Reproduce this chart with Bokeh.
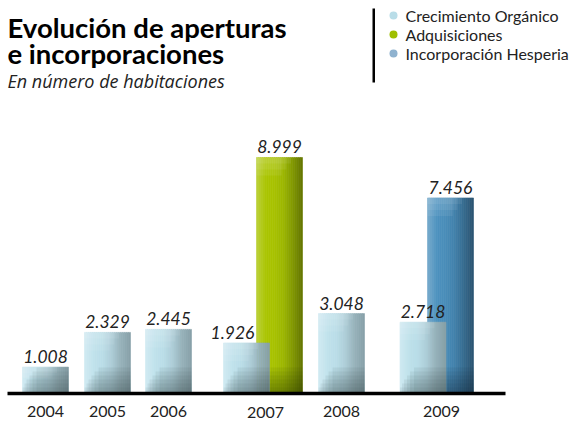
from bokeh.plotting import figure
from bokeh.models import Range1d, Label, BoxAnnotation
from bokeh.embed import file_html
from bokeh.resources import INLINE
from bokeh.core.properties import value

# ---------------- data ----------------
years = ["2004", "2005", "2006", "2007", "2008", "2009"]
organico = [1008, 2329, 2445, 1926, 3048, 2718]
adquisiciones = {"2007": 8999}
hesperia = {"2009": 7456}
series_names = ["Crecimiento Orgánico", "Adquisiciones", "Incorporación Hesperia"]
title_lines = ["Evolución de aperturas", "e incorporaciones"]
subtitle = "En número de habitaciones"

# ---------------- layout (pixel units) ----------------
W, H = 573, 422
BASE_PX = 29            # baseline distance from bottom
Y_PER_PX = 38.13        # data units per pixel
BAR_W = 46
org_x = [45, 107, 168, 246, 341, 422.5]
extra_x = {"2007": 279, "2009": 450}
year_lbl_x = [45, 107, 168, 265, 341, 441]
year_lbl_y = [410.5, 410.5, 410.5, 412, 410.5, 410.5]
org_lbl_dx = [0, 0, 0, -14, 0, 0]

def fmt(v):
    return f"{v:,}".replace(",", ".")

def sy(page_y):
    return H - page_y

p = figure(width=W, height=H, output_backend="svg", toolbar_location=None,
           x_range=Range1d(0, W),
           y_range=Range1d(-BASE_PX * Y_PER_PX, (H - BASE_PX) * Y_PER_PX),
           min_border=0, outline_line_color=None)
p.axis.visible = False
p.grid.visible = False
p.background_fill_color = "white"

def mix(c1, c2, t):
    a = [int(c1[i:i + 2], 16) for i in (1, 3, 5)]
    b = [int(c2[i:i + 2], 16) for i in (1, 3, 5)]
    return "#%02x%02x%02x" % tuple(round(a[k] + (b[k] - a[k]) * t) for k in range(3))

def grad_bar(xc, top, stops, shadow):
    n = 23
    step = BAR_W / n
    lefts, rights, tops, bots, cols = [], [], [], [], []
    for i in range(n):
        t = i / (n - 1)
        seg = t * (len(stops) - 1)
        k = min(int(seg), len(stops) - 2)
        cols.append(mix(stops[k], stops[k + 1], seg - k))
        lefts.append(xc - BAR_W / 2 + i * step)
        rights.append(xc - BAR_W / 2 + (i + 1) * step)
        tops.append(top)
        bots.append(0)
    p.quad(left=lefts, right=rights, top=tops, bottom=bots, fill_color=cols,
           line_color=cols, line_width=0.6)
    # top highlight (soft)
    for hpx, wr in [(18, 0.55), (12, 0.65), (6, 0.75)]:
        hh = min(hpx * Y_PER_PX, top * 0.4)
        p.quad(left=[xc - BAR_W / 2], right=[xc - BAR_W / 2 + BAR_W * wr], top=[top],
               bottom=[top - hh], fill_color="white", fill_alpha=0.07, line_color=None)
    # bottom shadow (soft)
    for hpx, off in [(26, 14), (22, 10), (18, 7), (14, 4), (10, 2), (6, 0), (3, 0)]:
        hh = min(hpx * Y_PER_PX, top)
        p.quad(left=[xc - BAR_W / 2 + off], right=[xc + BAR_W / 2], top=[hh], bottom=[0],
               fill_color=shadow, fill_alpha=0.07, line_color=None)

light_stops = ["#cfe9f1", "#bfe1eb", "#b9dce7", "#acccd6", "#96b2ba", "#88a1a9"]
green_stops = ["#b9cf33", "#aac400", "#a6c100", "#9bb500", "#819800", "#667800"]
blue_stops = ["#72a7ca", "#4c91be", "#488cb8", "#4180aa", "#356b8f", "#2b5573"]

# extra series bars first (behind)
for y_, v in adquisiciones.items():
    grad_bar(extra_x[y_], v, green_stops, "#1e2400")
for y_, v in hesperia.items():
    grad_bar(extra_x[y_], v, blue_stops, "#0c1c28")
for i, v in enumerate(organico):
    grad_bar(org_x[i], v, light_stops, "#26393f")

# baseline
p.line(x=[7, 505], y=[0, 0], line_color="black", line_width=3.5)

# value labels
lbl_font = value("Lato")
p.text(x=[org_x[i] + org_lbl_dx[i] for i in range(len(organico))], y=organico,
       text=[fmt(v) for v in organico], text_font=lbl_font, text_font_style="italic",
       text_font_size="17.5px", text_color="#222222", text_align="center",
       text_baseline="bottom", y_offset=-4)
ex_keys = list(adquisiciones) + list(hesperia)
ex_vals = list(adquisiciones.values()) + list(hesperia.values())
p.text(x=[extra_x[k] for k in ex_keys], y=ex_vals, text=[fmt(v) for v in ex_vals],
       text_font=lbl_font, text_font_style="italic", text_font_size="17.5px",
       text_color="#222222", text_align="center", text_baseline="bottom", y_offset=-4)

# year labels
for i, yr in enumerate(years):
    p.add_layout(Label(x=year_lbl_x[i], y=sy(year_lbl_y[i]), x_units="screen",
                       y_units="screen", text=yr, text_font="Lato", text_font_size="16px",
                       text_color="#222222", text_align="center", text_baseline="middle"))

# title and subtitle
p.add_layout(Label(x=7, y=sy(27), x_units="screen", y_units="screen", text=title_lines[0],
                   text_font="Lato", text_font_style="bold", text_font_size="27.5px",
                   text_color="black", text_baseline="alphabetic"))
p.add_layout(Label(x=7, y=sy(53), x_units="screen", y_units="screen", text=title_lines[1],
                   text_font="Lato", text_font_style="bold", text_font_size="27.5px",
                   text_color="black", text_baseline="alphabetic"))
p.add_layout(Label(x=7, y=sy(80), x_units="screen", y_units="screen", text=subtitle,
                   text_font="Open Sans", text_font_style="italic", text_font_size="18px",
                   text_color="#222222", text_baseline="alphabetic"))

# legend
p.add_layout(BoxAnnotation(left=372, right=374.5, top=sy(8), bottom=sy(82),
                           left_units="screen", right_units="screen",
                           top_units="screen", bottom_units="screen",
                           fill_color="black", fill_alpha=1, line_color=None))
leg_cols = ["#b9dde8", "#9fbf00", "#8fb2cf"]
leg_y = [15, 34, 53]
for i, name in enumerate(series_names):
    p.scatter(x=[393], y=[(sy(leg_y[i]) - BASE_PX) * Y_PER_PX], size=8, marker="circle",
              fill_color=leg_cols[i], line_color=None)
    p.add_layout(Label(x=405, y=sy(leg_y[i]), x_units="screen", y_units="screen", text=name,
                       text_font="Lato", text_font_size="16px", text_color="#222222",
                       text_baseline="middle"))

open("out.html", "w").write(file_html(p, INLINE))
